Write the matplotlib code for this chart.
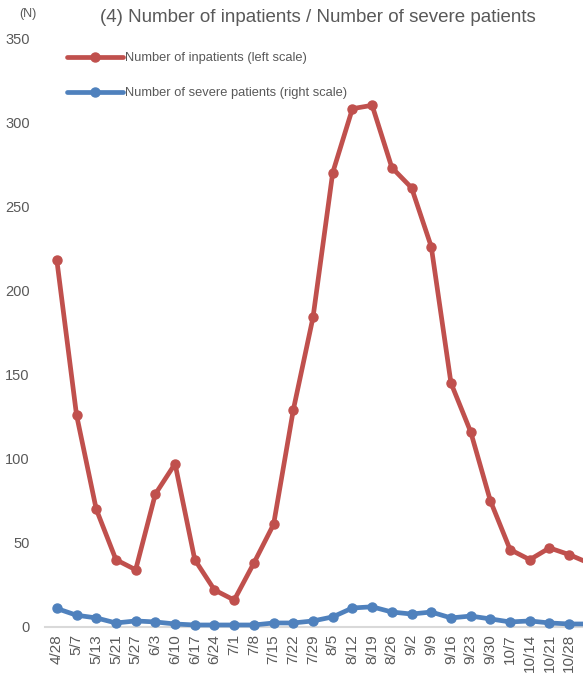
import numpy as np
import matplotlib.pyplot as plt

plt.rcParams['font.family'] = ['Liberation Sans', 'DejaVu Sans']

# data
dates = ['4/28', '5/7', '5/13', '5/21', '5/27', '6/3', '6/10', '6/17', '6/24', '7/1',
         '7/8', '7/15', '7/22', '7/29', '8/5', '8/12', '8/19', '8/26', '9/2', '9/9',
         '9/16', '9/23', '9/30', '10/7', '10/14', '10/21', '10/28', '11/4']
inpatients = [218, 126, 70, 40, 34, 79, 97, 40, 22, 16,
              38, 61, 129, 184, 270, 308, 310, 273, 261, 226,
              145, 116, 75, 46, 40, 47, 43, 38]
severe = [11, 7, 5.4, 2.4, 3.6, 3, 1.8, 1.2, 1.2, 1.2,
          1.2, 2.4, 2.4, 3.6, 6, 11.3, 12, 8.9, 7.7, 8.9,
          5.4, 6.5, 4.8, 3, 3.6, 2.4, 1.8, 1.8]

red = '#C0504D'
blue = '#4F81BD'
grey = '#595959'

fig = plt.figure(figsize=(5.83, 6.77), dpi=100)
ax = fig.add_axes([45 / 583, 1 - 627 / 677, 1 - 45 / 583, (627 - 38) / 677])

x = np.arange(len(dates))
ax.plot(x, inpatients, '-o', color=red, lw=3.4, ms=6.5, label='Number of inpatients (left scale)',
        solid_joinstyle='round', solid_capstyle='round')
ax.plot(x, severe, '-o', color=blue, lw=3.4, ms=6.5, label='Number of severe patients (right scale)',
        solid_joinstyle='round', solid_capstyle='round', clip_on=False, zorder=3)

ax.set_xlim(-0.6, 26.7)
ax.set_ylim(0, 350)
ax.set_yticks(range(0, 351, 50))
ax.set_xticks(x[:27])
ax.set_xticklabels(dates[:27], rotation=90)

for s in ['top', 'right', 'left']:
    ax.spines[s].set_visible(False)
ax.spines['bottom'].set_color('#D9D9D9')
ax.spines['bottom'].set_linewidth(1.5)
ax.spines['bottom'].set_zorder(0)
ax.tick_params(axis='both', length=0, colors=grey)
ax.tick_params(axis='x', pad=5, labelsize=11)
ax.tick_params(axis='y', pad=11, labelsize=10.5)

fig.text(318 / 583, 1 - 17 / 677, '(4) Number of inpatients / Number of severe patients',
         ha='center', va='center', fontsize=13.5, color=grey)
fig.text(28 / 583, 1 - 14 / 677, '(N)', ha='center', va='center', fontsize=9, color=grey)

ax.legend(loc='upper left', bbox_to_anchor=(61 / 583, 1 - 46 / 677), bbox_transform=fig.transFigure,
          frameon=False, fontsize=9.3, handlelength=4.3, labelspacing=1.75, handletextpad=0.15,
          borderpad=0, labelcolor=grey)

fig.savefig('out.png', dpi=100)
